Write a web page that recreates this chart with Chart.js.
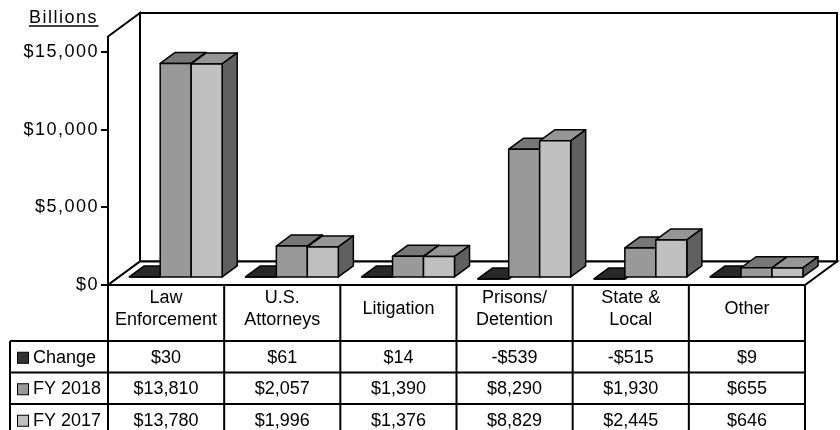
<!DOCTYPE html>
<html><head><meta charset="utf-8">
<script src="https://cdn.jsdelivr.net/npm/chart.js@4.4.0/dist/chart.umd.min.js"></script>
<style>html,body{margin:0;padding:0;background:#fff;}canvas{display:block;}</style>
</head><body>
<div style="width:840px;height:430px;"><canvas id="c" width="840" height="430"></canvas></div>
<script>
// ---- data ----
const categories = [['Law','Enforcement'], ['U.S.','Attorneys'], 'Litigation', ['Prisons/','Detention'], ['State &','Local'], 'Other'];
const seriesNames = ['Change', 'FY 2018', 'FY 2017'];
const changeValues = [30, 61, 14, -539, -515, 9];
const fy2018Values = [13810, 2057, 1390, 8290, 1930, 655];
const fy2017Values = [13780, 1996, 1376, 8829, 2445, 646];
const yTickValues = [0, 5000, 10000, 15000];
const yMax = 16000;
const unitLabel = 'Billions';

// ---- style ----
const seriesColors = ['#333333', '#999999', '#c0c0c0'];
const FONT = "'Liberation Sans', Arial, sans-serif";
const DEPTH = { dx: 32, dy: -23.5 };

function shade(hex, f) {
  const n = parseInt(hex.slice(1), 16);
  const r = Math.round(((n >> 16) & 255) * f), g = Math.round(((n >> 8) & 255) * f), b = Math.round((n & 255) * f);
  return `rgb(${r},${g},${b})`;
}
function poly(ctx, pts, fill = true, stroke = true) {
  ctx.beginPath();
  ctx.moveTo(pts[0][0], pts[0][1]);
  for (let i = 1; i < pts.length; i++) ctx.lineTo(pts[i][0], pts[i][1]);
  ctx.closePath();
  if (fill) ctx.fill();
  if (stroke) ctx.stroke();
}
function money(v) {
  const s = '$' + Math.abs(v).toLocaleString('en-US');
  return v < 0 ? '-' + s : s;
}

const threeD = {
  id: 'threeD',
  beforeDraw(chart) {
    const { ctx, chartArea: a } = chart;
    const dx = DEPTH.dx, dy = DEPTH.dy;
    ctx.save();
    ctx.fillStyle = '#fff';
    ctx.fillRect(0, 0, chart.width, chart.height);
    ctx.lineWidth = 2; ctx.strokeStyle = '#000'; ctx.lineJoin = 'miter';
    poly(ctx, [[a.left + dx, a.top + dy], [a.right + dx, a.top + dy], [a.right + dx, a.bottom + dy], [a.left + dx, a.bottom + dy]]);
    poly(ctx, [[a.left, a.top], [a.left + dx, a.top + dy], [a.left + dx, a.bottom + dy], [a.left, a.bottom]]);
    poly(ctx, [[a.left, a.bottom], [a.left + dx, a.bottom + dy], [a.right + dx, a.bottom + dy], [a.right, a.bottom]]);
    ctx.restore();
    // value-axis labels are spaced a little wider in the original
    ctx.letterSpacing = '1.5px';
  },
  beforeDatasetsDraw(chart) {
    const ctx = chart.ctx;
    ctx.letterSpacing = '0px';
    const f0 = 0.3, f1 = 0.47;
    const ox = DEPTH.dx * f0, oy = DEPTH.dy * f0, bx = DEPTH.dx * f1, by = DEPTH.dy * f1;
    const n = chart.data.labels.length;
    ctx.save();
    ctx.lineWidth = 1.5; ctx.strokeStyle = '#000'; ctx.lineJoin = 'round';
    for (let i = 0; i < n; i++) {
      for (let d = 0; d < chart.data.datasets.length; d++) {
        const el = chart.getDatasetMeta(d).data[i];
        const col = chart.data.datasets[d].backgroundColor;
        const h = Math.max(0, el.base - el.y);
        const l = el.x - el.width / 2 + ox, r = el.x + el.width / 2 + ox;
        const b = el.base + oy, t = b - h;
        ctx.fillStyle = shade(col, 0.78);
        poly(ctx, [[l, t], [l + bx, t + by], [r + bx, t + by], [r, t]]);
        if (h > 0.5) {
          ctx.fillStyle = shade(col, 0.5);
          poly(ctx, [[r, t], [r + bx, t + by], [r + bx, b + by], [r, b]]);
          ctx.fillStyle = col;
          poly(ctx, [[l, t], [r, t], [r, b], [l, b]]);
        } else {
          ctx.beginPath(); ctx.moveTo(l, b); ctx.lineTo(r, b); ctx.lineTo(r + bx, b + by); ctx.stroke();
        }
      }
    }
    ctx.restore();
    return false;
  },
  afterDraw(chart) {
    const ctx = chart.ctx, a = chart.chartArea, xs = chart.scales.x;
    const n = chart.data.labels.length;
    const colW = (a.right - a.left) / n;
    const rowTop = 341, rowH = 31.5, labelLeft = 10;
    ctx.save();
    ctx.letterSpacing = '0px';
    ctx.strokeStyle = '#000'; ctx.lineWidth = 2;
    const line = (x1, y1, x2, y2) => { ctx.beginPath(); ctx.moveTo(x1, y1); ctx.lineTo(x2, y2); ctx.stroke(); };
    for (let i = 0; i <= n; i++) {
      const x = a.left + i * colW;
      line(x, a.bottom, x, chart.height);
    }
    line(labelLeft, rowTop, labelLeft, chart.height);
    for (let r = 0; r < 3; r++) line(labelLeft, rowTop + r * rowH, a.right, rowTop + r * rowH);
    line(labelLeft, rowTop + 3 * rowH, a.right, rowTop + 3 * rowH);

    ctx.font = '18px ' + FONT;
    ctx.fillStyle = '#000';
    ctx.textBaseline = 'middle';
    chart.data.datasets.forEach((ds, r) => {
      const cy = rowTop + r * rowH + rowH / 2 + 1;
      ctx.lineWidth = 1;
      ctx.fillStyle = ds.backgroundColor;
      ctx.fillRect(17.5, cy - 5.5, 11, 11);
      ctx.strokeRect(17.5, cy - 5.5, 11, 11);
      ctx.fillStyle = '#000';
      ctx.textAlign = 'left';
      ctx.fillText(ds.label, 33, cy);
      ctx.textAlign = 'center';
      ds.data.forEach((v, i) => {
        ctx.fillText(money(v), xs.getPixelForValue(i), cy);
      });
    });

    ctx.textAlign = 'left';
    ctx.textBaseline = 'alphabetic';
    ctx.letterSpacing = '1.5px';
    ctx.fillText(unitLabel, 29, 23);
    const w = ctx.measureText(unitLabel).width - 1.5;
    ctx.lineWidth = 1.5;
    line(29, 26, 29 + w + 2, 26);
    ctx.restore();
  }
};

Chart.defaults.font.family = FONT;
Chart.defaults.font.size = 18;
Chart.defaults.color = '#000';

new Chart(document.getElementById('c'), {
  type: 'bar',
  data: {
    labels: categories,
    datasets: [
      { label: seriesNames[0], data: changeValues, backgroundColor: seriesColors[0] },
      { label: seriesNames[1], data: fy2018Values, backgroundColor: seriesColors[1] },
      { label: seriesNames[2], data: fy2017Values, backgroundColor: seriesColors[2] }
    ]
  },
  options: {
    responsive: false,
    animation: false,
    devicePixelRatio: 1,
    layout: { padding: { top: 36.5, right: 35, left: 0, bottom: 0 } },
    datasets: { bar: { categoryPercentage: 0.8, barPercentage: 1.0 } },
    plugins: { legend: { display: false }, tooltip: { enabled: false } },
    scales: {
      x: {
        grid: { display: false },
        border: { display: true, color: '#000', width: 2 },
        ticks: { z: 1, font: { size: 18, lineHeight: 1.2 }, crossAlign: 'center', padding: 5.5, maxRotation: 0, autoSkip: false },
        afterFit(s) { s.height = 145; }
      },
      y: {
        min: 0, max: yMax,
        grid: { display: true, drawOnChartArea: false, drawTicks: true, tickLength: 7, color: '#000', lineWidth: 2 },
        border: { display: true, color: '#000', width: 2 },
        ticks: { stepSize: 5000, padding: 2, font: { size: 18 }, callback: v => money(v) },
        afterBuildTicks(s) { s.ticks = yTickValues.map(v => ({ value: v })); },
        afterFit(s) { s.width = 108; }
      }
    }
  },
  plugins: [threeD]
});
</script>
</body></html>
